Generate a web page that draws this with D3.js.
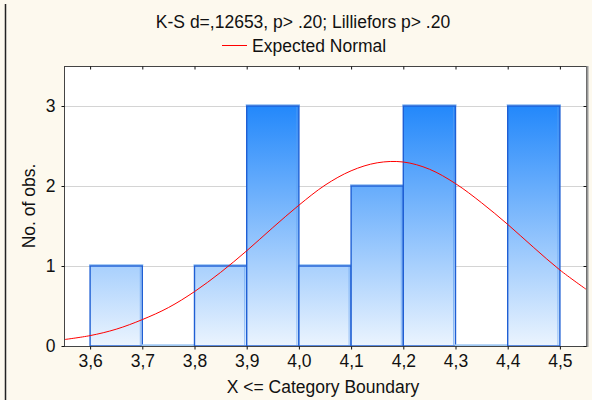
<!DOCTYPE html>
<html>
<head>
<meta charset="utf-8">
<script src="https://cdn.jsdelivr.net/npm/d3@7"></script>
<style>
  body { margin: 0; background: #fdf9ee; }
  svg { display: block; font-family: "Liberation Sans", Arial, sans-serif; }
</style>
</head>
<body>
<svg id="chart" width="592" height="400"></svg>
<script>
// bins: upper category boundaries and counts
const binStarts = [3.6, 3.7, 3.8, 3.9, 4.0, 4.1, 4.2, 4.3, 4.4]
const binWidth = 0.1
const counts = [1, 0, 1, 3, 1, 2, 3, 0, 3]
const xTicks = [3.6, 3.7, 3.8, 3.9, 4.0, 4.1, 4.2, 4.3, 4.4, 4.5]
const yTicks = [0, 1, 2, 3]
// expected normal curve
const curveX = [3.55, 3.60, 3.65, 3.70, 3.75, 3.80, 3.85, 3.90, 3.95, 4.00, 4.05,
                4.10, 4.15, 4.20, 4.25, 4.30, 4.35, 4.40, 4.45, 4.50, 4.55]
const curveY = [0.08, 0.13, 0.21, 0.33, 0.48, 0.68, 0.92, 1.19, 1.48, 1.76, 2.01,
                2.19, 2.29, 2.30, 2.21, 2.03, 1.79, 1.52, 1.23, 0.95, 0.71]
const title = "K-S d=,12653, p> .20; Lilliefors p> .20"
const legendLabel = "Expected Normal"

const svg = d3.select("#chart")
const pLeft = 64, pTop = 66, pRight = 586, pBottom = 346

const x = d3.scaleLinear().domain([3.55, 4.55]).range([pLeft, pRight])
const y = d3.scaleLinear().domain([0, 3.5]).range([pBottom, pTop])

// outer frame line
svg.append("line").attr("x1", 5.5).attr("x2", 5.5).attr("y1", 4).attr("y2", 400)
  .attr("stroke", "#222").attr("stroke-width", 1.5)

// plot background
svg.append("rect").attr("x", pLeft).attr("y", pTop)
  .attr("width", pRight - pLeft).attr("height", pBottom - pTop).attr("fill", "#fff")

const defs = svg.append("defs")
const grad = defs.append("linearGradient").attr("id", "barGrad")
  .attr("gradientUnits", "userSpaceOnUse")
  .attr("x1", 0).attr("x2", 0).attr("y1", y(3)).attr("y2", y(0))
grad.append("stop").attr("offset", 0).attr("stop-color", "#2388fb")
grad.append("stop").attr("offset", 1).attr("stop-color", "#ebf4fe")
defs.append("clipPath").attr("id", "plotClip").append("rect")
  .attr("x", pLeft).attr("y", pTop).attr("width", pRight - pLeft).attr("height", pBottom - pTop)

// gridlines
svg.append("g").selectAll("line").data(yTicks.filter(d => d > 0)).join("line")
  .attr("x1", pLeft).attr("x2", pRight).attr("y1", d => y(d) + 0.5).attr("y2", d => y(d) + 0.5)
  .attr("stroke", "#d4d4d4")

// light strip above the bar tops
svg.append("g").selectAll("rect").data(binStarts.filter((d, i) => counts[i] > 0)).join("rect")
  .attr("x", d => x(d) - 1).attr("width", d => x(d + binWidth) - x(d) + 2)
  .attr("y", d => y(counts[binStarts.indexOf(d)]) - 2).attr("height", 3)
  .attr("fill", "#a9cdf5")

// bars
svg.append("g").selectAll("rect").data(binStarts).join("rect")
  .attr("x", d => x(d))
  .attr("y", (d, i) => y(counts[i]) - (counts[i] == 0 ? 1 : 0))
  .attr("width", d => x(d + binWidth) - x(d))
  .attr("height", (d, i) => y(0) - y(counts[i]) + (counts[i] == 0 ? 1 : 0))
  .attr("fill", "url(#barGrad)")
  .attr("stroke", (d, i) => counts[i] == 0 ? "#9cc6f2" : "#1f5fd4")
  .attr("stroke-width", 1.4)

// right-edge highlight on bars
svg.append("g").selectAll("line").data(binStarts.filter((d, i) => counts[i] > 0)).join("line")
  .attr("x1", d => x(d + binWidth) - 2).attr("x2", d => x(d + binWidth) - 2)
  .attr("y1", d => y(counts[binStarts.indexOf(d)]) + 1).attr("y2", y(0) - 1)
  .attr("stroke", "#5c9df0").attr("stroke-width", 1).attr("opacity", 0.6)

// expected normal
const line = d3.line().x(d => x(d[0])).y(d => y(d[1])).curve(d3.curveCatmullRom)
svg.append("path").datum(curveX.map((v, i) => [v, curveY[i]]))
  .attr("clip-path", "url(#plotClip)")
  .attr("d", line).attr("fill", "none").attr("stroke", "#ff0000").attr("stroke-width", 1)

// frame
svg.append("rect").attr("x", pLeft + 0.5).attr("y", pTop + 0.5)
  .attr("width", pRight - pLeft).attr("height", pBottom - pTop)
  .attr("fill", "none").attr("stroke", "#444")
svg.append("line").attr("x1", pRight + 1.5).attr("x2", pRight + 1.5).attr("y1", pTop).attr("y2", pBottom + 1)
  .attr("stroke", "#999").attr("stroke-width", 2)

// axes
const xAxis = svg.append("g").attr("transform", `translate(0,${pBottom + 0.5})`)
  .call(d3.axisBottom(x).tickValues(xTicks).tickSize(3).tickFormat(d => d3.format(".1f")(d).replace(".", ",")))
xAxis.select(".domain").remove()
xAxis.selectAll("text").attr("font-size", 17.5).attr("fill", "#111").attr("y", 20.5).attr("dy", 0)

const xTop = svg.append("g").attr("transform", `translate(0,${pTop + 0.5})`)
  .call(d3.axisBottom(x).tickValues(xTicks).tickSize(3).tickFormat(""))
xTop.select(".domain").remove()

const yAxis = svg.append("g").attr("transform", `translate(${pLeft + 0.5},0)`)
  .call(d3.axisLeft(y).tickValues(yTicks).tickSize(3).tickPadding(6).tickFormat(d3.format("d")))
yAxis.select(".domain").remove()
yAxis.selectAll("text").attr("font-size", 17.5).attr("fill", "#111")

const yRight = svg.append("g").attr("transform", `translate(${pRight + 0.5},0)`)
  .call(d3.axisLeft(y).tickValues(yTicks).tickSize(3).tickFormat(""))
yRight.select(".domain").remove()
svg.selectAll(".tick line").attr("stroke", "#111")

// titles
svg.append("text").attr("x", 303).attr("y", 28).attr("text-anchor", "middle")
  .attr("font-size", 17.5).attr("fill", "#111").text(title)
svg.append("line").attr("x1", 222).attr("x2", 247).attr("y1", 45.5).attr("y2", 45.5)
  .attr("stroke", "#ff0000").attr("stroke-width", 1)
svg.append("text").attr("x", 252).attr("y", 51.5).attr("font-size", 17.5).attr("fill", "#111").text(legendLabel)

svg.append("text").attr("x", 323).attr("y", 393).attr("text-anchor", "middle")
  .attr("font-size", 17.5).attr("fill", "#111").text("X <= Category Boundary")
svg.append("text").attr("transform", `translate(35,${(pTop + pBottom) / 2}) rotate(-90)`)
  .attr("text-anchor", "middle").attr("font-size", 17.5).attr("fill", "#111").text("No. of obs.")
</script>
</body>
</html>
